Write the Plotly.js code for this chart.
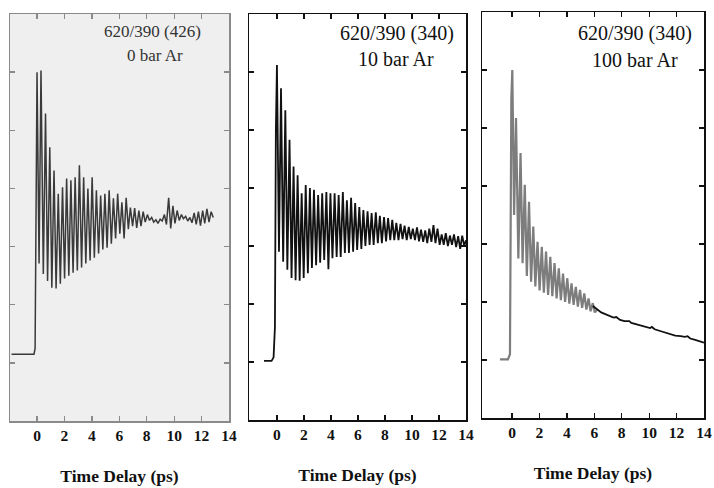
<!DOCTYPE html>
<html>
<head>
<meta charset="utf-8">
<script src="https://cdn.plot.ly/plotly-3.0.1.min.js"></script>
<style>html,body{margin:0;padding:0;background:#fff;}#chart{width:714px;height:488px;}</style>
</head>
<body>
<div id="chart"></div>
<script>
// ---- Data (signal in arbitrary units, time in ps) ----
var tickValues = [0, 2, 4, 6, 8, 10, 12, 14];
var tickLabels = ["0", "2", "4", "6", "8", "10", "12", "14"];
var panelLabels = [["620/390 (426)", "0 bar Ar"], ["620/390 (340)", "10 bar Ar"], ["620/390 (340)", "100 bar Ar"]];
var xTitle = "Time Delay (ps)";

// Panel 1: 0 bar Ar
var t1 = [-1.86,-0.22,-0.14,-0.05,0.0,0.15,0.29,0.46,0.62,0.77,0.93,1.08,1.24,1.39,1.55,1.70,1.86,2.01,2.16,2.32,2.47,2.63,2.78,2.94,3.09,3.25,3.40,3.56,3.71,3.87,4.02,4.18,4.33,4.49,4.64,4.80,4.95,5.11,5.26,5.42,5.57,5.73,5.88,6.04,6.19,6.35,6.50,6.66,6.81,6.97,7.12,
  7.27,7.43,7.58,7.74,7.89,8.05,8.20,8.36,8.51,8.67,8.82,8.98,9.13,9.29,9.44,9.60,9.75,9.91,10.06,10.22,10.37,10.53,10.68,10.84,10.99,11.15,11.30,11.46,11.61,11.77,11.92,12.08,12.23,12.39,12.54,12.70,12.85];
var s1 = [1.15,1.15,1.25,5.9,6.0,2.71,6.03,2.53,5.29,2.41,4.71,2.29,4.31,2.28,3.91,2.36,4.02,2.45,4.17,2.50,4.14,2.55,4.19,2.59,4.40,2.64,4.19,2.71,4.00,2.76,4.19,2.81,3.97,2.88,3.88,2.95,3.91,2.98,3.97,3.05,3.83,3.14,3.91,3.22,3.76,3.14,3.84,3.30,3.67,3.35,3.66,
  3.32,3.62,3.35,3.60,3.42,3.55,3.45,3.50,3.42,3.46,3.40,3.47,3.44,3.55,3.38,3.84,3.31,3.70,3.40,3.62,3.45,3.55,3.48,3.52,3.44,3.50,3.41,3.58,3.38,3.60,3.36,3.62,3.40,3.65,3.42,3.60,3.50];

// Panel 2: 10 bar Ar
var t2 = [-0.96,-0.40,-0.25,-0.15,-0.08,0.0,0.15,0.30,0.46,0.62,0.77,0.93,1.08,1.23,1.38,1.53,1.68,1.83,1.98,2.13,2.29,2.44,2.59,2.74,2.90,3.05,3.20,3.35,3.50,3.66,3.81,3.96,4.11,4.27,4.42,4.57,4.72,4.88,5.03,5.18,5.33,5.49,5.64,5.79,5.94,6.10,6.25,6.40,6.55,6.71,6.86,7.01,7.16,7.32,7.47,7.62,7.77,7.93,8.08,8.23,8.39,8.54,8.69,8.84,9.00,9.15,9.30,9.45,9.61,9.76,9.91,10.06,10.22,10.37,10.52,10.67,10.83,10.98,11.13,11.28,11.44,11.59,11.74,11.89,12.05,12.20,12.35,12.50,12.66,12.81,12.96,13.11,13.27,13.42,13.57,13.72,13.87,14.0];
var s2 = [1.02,1.02,1.08,1.60,5.00,6.12,2.90,5.72,2.73,5.34,2.59,4.83,2.45,4.37,2.41,4.22,2.40,3.91,2.45,4.05,2.53,4.00,2.62,3.97,2.67,3.88,2.71,3.91,2.76,3.93,2.60,3.91,2.79,3.91,2.81,3.88,2.81,3.93,2.88,3.79,2.88,3.83,2.90,3.74,2.93,3.67,2.95,3.62,3.00,3.60,3.02,3.57,3.02,3.58,3.05,3.52,3.05,3.50,3.08,3.48,3.10,3.45,3.10,3.40,3.10,3.38,3.12,3.35,3.10,3.33,3.12,3.30,3.10,3.32,3.08,3.28,3.07,3.27,3.05,3.30,3.07,3.36,3.05,3.30,3.02,3.20,3.02,3.22,3.00,3.18,3.02,3.20,2.98,3.17,2.95,3.18,3.00,3.10];

// Panel 3: 100 bar Ar (oscillating part, then smooth tail)
var t3 = [-0.88,-0.30,-0.15,-0.05,0.02,0.15,0.29,0.46,0.62,0.77,0.93,1.08,1.24,1.39,1.55,1.70,1.86,2.01,2.17,2.32,2.48,2.63,2.79,2.94,3.10,3.25,3.41,3.56,3.72,3.87,4.03,4.18,4.34,4.49,4.65,4.80,4.96,5.11,5.27,5.42,5.58,5.73,5.89,6.04,6.20];
var s3 = [1.01,1.01,1.10,5.50,6.00,3.50,5.17,2.75,4.57,2.67,4.02,2.45,3.73,2.35,3.30,2.27,3.04,2.20,2.95,2.16,2.87,2.12,2.78,2.10,2.67,2.06,2.58,2.03,2.49,2.00,2.41,1.97,2.32,1.95,2.26,1.92,2.21,1.90,2.15,1.87,2.06,1.84,1.98,1.82,1.87];
var t3tail = [5.9,6.2,6.5,6.8,7.1,7.4,7.6,7.88,8.2,8.55,8.7,9.2,9.6,10.07,10.2,10.4,10.8,11.2,11.5,11.9,12.3,12.6,12.8,13.0,13.3,13.6,14.0];
var s3tail = [1.93,1.87,1.82,1.79,1.76,1.73,1.74,1.69,1.67,1.67,1.64,1.61,1.58,1.55,1.57,1.53,1.50,1.47,1.44,1.42,1.41,1.40,1.41,1.37,1.35,1.33,1.30];

// ---- Layout ----
var W = 714, H = 488;
function px(x) { return x / W; }
function py(y) { return 1 - y / H; }
var serif = "Liberation Serif, Times New Roman, serif";

var traces = [
  {x: t1, y: s1, xaxis: "x", yaxis: "y", mode: "lines", line: {color: "#3a3a3a", width: 1.5}, hoverinfo: "skip"},
  {x: t2, y: s2, xaxis: "x2", yaxis: "y2", mode: "lines", line: {color: "#111", width: 1.8}, hoverinfo: "skip"},
  {x: t3, y: s3, xaxis: "x3", yaxis: "y3", mode: "lines", line: {color: "#7d7d7d", width: 2.2}, hoverinfo: "skip"},
  {x: t3tail, y: s3tail, xaxis: "x3", yaxis: "y3", mode: "lines", line: {color: "#111", width: 1.8}, hoverinfo: "skip"}
];

function xax(domain, range, lc) {
  return {
    domain: domain, range: range, showgrid: false, zeroline: false,
    showline: true, mirror: "ticks", linecolor: lc, linewidth: 1.5,
    ticks: "inside", ticklen: 5, tickwidth: 1.3, tickcolor: lc,
    tickvals: tickValues, ticktext: tickLabels,
    tickfont: {family: serif, size: 15.5, color: "#111", weight: "bold"},
    title: {text: xTitle, font: {family: serif, size: 17.5, color: "#111", weight: "bold"}, standoff: 26},
    fixedrange: true
  };
}
function yax(domain, lc, anchor) {
  return {
    domain: domain, range: [0, 7], showgrid: false, zeroline: false,
    showline: true, mirror: "ticks", linecolor: lc, linewidth: 1.5,
    ticks: "inside", ticklen: 5, tickwidth: 1.3, tickcolor: lc,
    tickvals: [1, 2, 3, 4, 5, 6], showticklabels: false, anchor: anchor, fixedrange: true
  };
}

var layout = {
  width: W, height: H,
  margin: {l: 0, r: 0, t: 0, b: 0},
  paper_bgcolor: "#ffffff", plot_bgcolor: "rgba(0,0,0,0)",
  showlegend: false,
  xaxis: Object.assign(xax([px(10), px(229)], [-1.97, 14], "#8a8a8a"), {anchor: "y"}),
  xaxis2: Object.assign(xax([px(249), px(466)], [-2.07, 14], "#111"), {anchor: "y2"}),
  xaxis3: Object.assign(xax([px(482), px(704)], [-2.19, 14], "#111"), {anchor: "y3"}),
  yaxis: yax([py(421), py(14)], "#8a8a8a", "x"),
  yaxis2: yax([py(420), py(14)], "#111", "x2"),
  yaxis3: yax([py(418), py(12)], "#111", "x3"),
  shapes: [
    {type: "rect", xref: "x domain", yref: "y domain", x0: 0, x1: 1, y0: 0, y1: 1,
     fillcolor: "#efefef", line: {width: 0}, layer: "below"}
  ],
  annotations: [
    {text: panelLabels[0][0], x: px(152), y: py(32), xref: "paper", yref: "paper", showarrow: false, xanchor: "center", yanchor: "middle", font: {family: serif, size: 17, color: "#333"}},
    {text: panelLabels[0][1], x: px(155), y: py(55), xref: "paper", yref: "paper", showarrow: false, xanchor: "center", yanchor: "middle", font: {family: serif, size: 17, color: "#333"}},
    {text: panelLabels[1][0], x: px(397), y: py(33), xref: "paper", yref: "paper", showarrow: false, xanchor: "center", yanchor: "middle", font: {family: serif, size: 20, color: "#111"}},
    {text: panelLabels[1][1], x: px(396), y: py(59), xref: "paper", yref: "paper", showarrow: false, xanchor: "center", yanchor: "middle", font: {family: serif, size: 20, color: "#111"}},
    {text: panelLabels[2][0], x: px(635), y: py(33), xref: "paper", yref: "paper", showarrow: false, xanchor: "center", yanchor: "middle", font: {family: serif, size: 20, color: "#111"}},
    {text: panelLabels[2][1], x: px(635), y: py(60), xref: "paper", yref: "paper", showarrow: false, xanchor: "center", yanchor: "middle", font: {family: serif, size: 20, color: "#111"}}
  ]
};

Plotly.newPlot("chart", traces, layout, {displayModeBar: false, staticPlot: true});
</script>
</body>
</html>
